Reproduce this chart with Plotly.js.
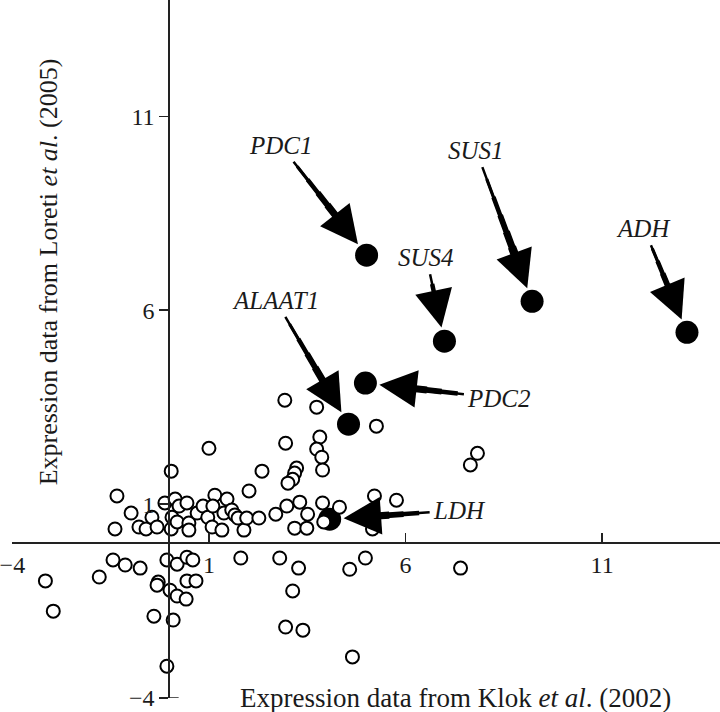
<!DOCTYPE html>
<html>
<head>
<meta charset="utf-8">
<script src="https://cdn.plot.ly/plotly-3.0.1.min.js"></script>
<style>html,body{margin:0;padding:0;background:#fff;}#chart{width:720px;height:712px;}</style>
</head>
<body>
<div id="chart"></div>
<script>
// Open circles: other genes (Klok et al. 2002 vs Loreti et al. 2005)
const otherX = [2.93,3.74,5.26,2.95,3.82,3.74,3.87,3.89,3.23,3.18,3.13,3.01,2.35,2.02,1.00,0.04,-1.34,7.65,7.83,5.21,5.77,5.16,
  -0.98,-1.39,-0.78,-0.60,-0.45,-0.32,-0.12,0.04,0.14,0.24,0.06,0.19,0.44,0.49,0.70,0.85,0.97,1.08,1.15,1.10,1.33,1.46,1.38,1.58,1.66,1.74,1.89,1.96,2.27,2.70,2.98,3.31,3.51,3.18,3.49,3.89,3.92,4.32,0.49,
  -1.44,-1.13,-0.75,-1.79,-3.16,-2.96,-0.07,0.19,0.44,0.59,-0.29,-0.32,0.01,0.44,0.67,0.19,0.42,-0.40,0.09,-0.07,1.81,2.80,3.28,3.13,2.95,3.39,4.58,4.98,4.65,7.40];
const otherY = [3.68,3.50,3.01,2.57,2.73,2.42,2.21,1.88,1.93,1.80,1.64,1.54,1.85,1.34,2.44,1.85,1.21,2.01,2.31,1.21,1.10,0.36,
  0.77,0.36,0.41,0.36,0.66,0.41,1.03,0.36,1.13,0.95,0.66,0.54,1.03,0.51,0.77,0.95,0.66,0.41,1.23,0.95,0.33,1.13,0.77,0.85,0.72,0.64,0.33,0.64,0.64,0.74,0.95,1.05,0.74,0.38,0.38,1.03,0.54,0.92,0.33,
  -0.44,-0.57,-0.65,-0.88,-0.98,-1.76,-0.44,-0.55,-0.37,-0.44,-1.01,-1.09,-1.22,-0.98,-0.98,-1.37,-1.45,-1.89,-1.99,-3.18,-0.39,-0.39,-0.65,-1.24,-2.17,-2.25,-0.68,-0.39,-2.94,-0.65];

// Highlighted genes (filled circles)
const geneNames = ["PDC1","SUS4","SUS1","ADH","PDC2","ALAAT1","LDH"];
const geneX = [5.01,6.99,9.22,13.16,4.98,4.55,4.07];
const geneY = [7.42,5.20,6.23,5.43,4.12,3.06,0.61];

// Axis ticks
const tickVals = [-4,1,6,11];
const tickText = ["\u22124","1","6","11"];

// Label offsets (pixels) from each highlighted point to its label
const labelOffsets = {
  PDC1:[-86,-110], SUS4:[-18,-84], SUS1:[-56,-151], ADH:[-43,-104],
  PDC2:[134,15], ALAAT1:[-73,-124], LDH:[130,-9]
};

const serif = "Liberation Serif, Times New Roman, Times, serif";
const ink = "#1a1a1a";
const labelSize = 25;

const traces = [
  {x: geneX, y: geneY, type: "scatter", mode: "markers", hoverinfo: "skip",
   marker: {size: 23, color: "#000", line: {width: 0}}},
  {x: otherX, y: otherY, type: "scatter", mode: "markers", hoverinfo: "skip",
   marker: {size: 13, color: "#fff", line: {width: 2, color: "#000"}}}
];

const annotations = [];
// tapered shafts (thicker toward the head), kept clear of the label text
const taper = [[0.82, 3.2], [0.7, 4.5], [0.58, 5.8], [0.47, 7.1], [0.37, 8.4], [0.29, 9.5]];
geneNames.forEach((g, i) => {
  const [ox, oy] = labelOffsets[g];
  const len = Math.hypot(ox, oy);
  const hw = g.length * labelSize * 0.31, hh = labelSize * 0.5;
  const ux = Math.abs(ox) / len, uy = Math.abs(oy) / len;
  const edge = Math.min(ux > 1e-6 ? hw / ux : 1e9, uy > 1e-6 ? hh / uy : 1e9);
  const maxTail = len - edge - 6;
  taper.forEach(([f, w]) => {
    const d = len * f;
    if (d < 36 || d > maxTail) return;
    annotations.push({
      x: geneX[i], y: geneY[i], xref: "x", yref: "y", text: "",
      showarrow: true, ax: ox * f, ay: oy * f, arrowhead: 0,
      arrowwidth: w, arrowcolor: "#000", standoff: 28
    });
  });
});
geneNames.forEach((g, i) => {
  annotations.push({
    x: geneX[i], y: geneY[i], xref: "x", yref: "y",
    text: "<i>" + g + "</i>", showarrow: true,
    ax: labelOffsets[g][0], ay: labelOffsets[g][1],
    arrowhead: 2, arrowsize: 3, arrowwidth: 2.5, arrowcolor: "#000",
    standoff: 14, startstandoff: 2,
    font: {family: serif, size: labelSize, color: ink}
  });
});

annotations.push({
  xref: "paper", yref: "paper", x: 0.627, y: 0.0, xanchor: "center", yanchor: "middle",
  text: "Expression data from Klok <i>et al</i>. (2002)", showarrow: false,
  font: {family: serif, size: 27, color: ink}
});
annotations.push({
  xref: "paper", yref: "paper", x: 0.051, y: 0.61, xanchor: "center", yanchor: "middle",
  text: "Expression data from Loreti <i>et al</i>. (2005)", showarrow: false, textangle: -90,
  font: {family: serif, size: 26, color: ink}
});

const axisCommon = {
  anchor: "free", position: 4/18,
  showline: true, linecolor: "#222", linewidth: 2,
  showgrid: false, zeroline: false,
  tickmode: "array", tickvals: tickVals, ticktext: tickText,
  ticklen: 9, tickwidth: 1.5, tickcolor: "#222",
  ticklabeloverflow: "allow",
  tickfont: {family: serif, size: 24, color: ink}
};

const layout = {
  width: 720, height: 712,
  margin: {l: 12, r: 0, t: 0, b: 14},
  paper_bgcolor: "#fff", plot_bgcolor: "#fff",
  showlegend: false,
  xaxis: Object.assign({}, axisCommon, {range: [-4.01, 14], ticks: "inside"}),
  yaxis: Object.assign({}, axisCommon, {range: [-4, 14], ticks: "outside"}),
  shapes: [{
    type: "line", xref: "x", yref: "y", xsizemode: "pixel", xanchor: 0,
    x0: 0, x1: 9, y0: tickVals[0], y1: tickVals[0],
    line: {color: "#222", width: 1.5}
  }],
  annotations: annotations
};

Plotly.newPlot("chart", traces, layout, {displayModeBar: false, staticPlot: true});
</script>
</body>
</html>
